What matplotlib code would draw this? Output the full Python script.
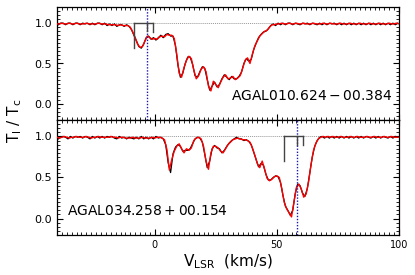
import numpy as np
import matplotlib
matplotlib.use("Agg")
import matplotlib.pyplot as plt
from matplotlib.ticker import MultipleLocator

# ---------------- data ----------------
vel_smooth = np.arange(-40, 101)          # km/s, 1 km/s channels
vel_raw = np.arange(-39.5, 100.0, 1.0)    # km/s, offset channels

top_smooth = [
    0.99, 0.99, 1.00, 0.99, 0.99, 1.00, 0.99, 0.99, 1.00, 0.99,
    0.99, 0.99, 1.00, 0.99, 0.99, 0.99, 0.99, 1.00, 0.99, 0.99,
    0.99, 0.98, 0.98, 0.98, 0.98, 0.97, 0.98, 0.97, 0.97, 0.97,
    0.95, 0.89, 0.82, 0.74, 0.70, 0.71, 0.78, 0.84, 0.82, 0.80,
    0.81, 0.80, 0.83, 0.84, 0.83, 0.86, 0.85, 0.85, 0.81, 0.62,
    0.38, 0.33, 0.45, 0.54, 0.59, 0.56, 0.42, 0.31, 0.35, 0.43,
    0.46, 0.40, 0.22, 0.16, 0.28, 0.24, 0.20, 0.27, 0.33, 0.36,
    0.31, 0.32, 0.34, 0.30, 0.32, 0.35, 0.44, 0.54, 0.57, 0.50,
    0.62, 0.72, 0.78, 0.84, 0.87, 0.90, 0.91, 0.95, 0.98, 0.98,
    0.99, 0.99, 1.00, 0.99, 0.99, 1.00, 0.99, 0.99, 1.00, 0.99,
    0.99, 1.00, 0.99, 0.99, 0.99, 1.00, 0.99, 0.99, 0.99, 1.00,
    0.99, 0.99, 1.00, 0.99, 0.99, 0.99, 1.00, 0.99, 0.99, 0.99,
    1.00, 0.99, 0.99, 0.99, 1.00, 0.99, 0.99, 0.99, 1.00, 0.99,
    0.99, 0.99, 1.00, 0.99, 0.99, 0.99, 1.00, 0.99, 0.99, 1.00, 0.99,
]
top_raw = [
    0.98, 1.00, 1.00, 0.98, 1.00, 1.00, 0.98, 1.00, 1.00, 0.98,
    1.00, 0.99, 1.00, 0.98, 1.00, 0.98, 1.00, 1.00, 0.98, 1.00,
    0.97, 0.99, 0.97, 0.99, 0.96, 0.98, 0.98, 0.96, 0.98, 0.96,
    0.92, 0.85, 0.78, 0.71, 0.69, 0.74, 0.82, 0.84, 0.80, 0.82,
    0.79, 0.82, 0.85, 0.82, 0.86, 0.87, 0.84, 0.84, 0.72, 0.48,
    0.33, 0.38, 0.50, 0.58, 0.58, 0.49, 0.35, 0.33, 0.40, 0.46,
    0.44, 0.30, 0.17, 0.22, 0.27, 0.21, 0.24, 0.31, 0.36, 0.33,
    0.30, 0.34, 0.31, 0.31, 0.34, 0.39, 0.50, 0.56, 0.53, 0.55,
    0.67, 0.75, 0.82, 0.86, 0.89, 0.90, 0.93, 0.97, 0.99, 0.97,
    1.00, 0.98, 1.00, 0.98, 1.00, 1.00, 0.98, 1.00, 0.99, 0.98,
    1.00, 0.99, 1.00, 0.98, 1.00, 0.99, 0.98, 1.00, 0.98, 1.00,
    0.98, 1.00, 0.99, 1.00, 0.98, 1.00, 0.98, 1.00, 0.98, 1.00,
    0.98, 1.00, 0.98, 1.00, 0.98, 1.00, 0.98, 1.00, 0.98, 1.00,
    0.98, 1.00, 0.98, 1.00, 0.98, 1.00, 0.98, 1.00, 0.98, 1.00,
]

bot_smooth = [
    0.99, 0.98, 0.99, 1.00, 0.99, 0.98, 0.99, 0.99, 1.00, 0.99,
    0.99, 0.99, 1.00, 0.99, 0.98, 0.99, 0.99, 1.00, 0.99, 0.99,
    0.99, 0.99, 1.00, 0.99, 0.99, 0.98, 0.99, 0.99, 0.98, 0.98,
    0.98, 0.99, 0.98, 0.98, 0.98, 0.99, 0.98, 0.98, 0.98, 0.99,
    0.98, 0.99, 0.99, 0.98, 0.96, 0.84, 0.59, 0.72, 0.82, 0.88,
    0.91, 0.85, 0.80, 0.85, 0.83, 0.86, 0.95, 0.98, 0.99, 0.97,
    0.88, 0.70, 0.60, 0.80, 0.88, 0.88, 0.86, 0.82, 0.80, 0.85,
    0.90, 0.93, 0.96, 0.97, 0.98, 0.97, 0.96, 0.96, 0.95, 0.93,
    0.86, 0.77, 0.67, 0.62, 0.70, 0.60, 0.49, 0.46, 0.48, 0.51,
    0.52, 0.50, 0.37, 0.20, 0.12, 0.07, 0.02, 0.20, 0.38, 0.42,
    0.36, 0.26, 0.30, 0.45, 0.66, 0.83, 0.92, 0.97, 0.99, 1.00,
    0.99, 1.00, 0.99, 1.00, 0.99, 0.99, 1.00, 0.99, 0.99, 0.99,
    1.00, 0.99, 0.99, 1.00, 0.99, 0.99, 0.99, 1.00, 0.99, 0.99,
    1.00, 0.99, 0.99, 0.99, 1.00, 0.99, 0.99, 1.00, 0.99, 0.99, 0.99,
]
bot_raw = [
    0.97, 0.99, 1.00, 0.99, 0.97, 1.00, 0.98, 1.00, 0.99, 1.00,
    0.98, 1.00, 0.99, 0.97, 1.00, 0.98, 1.00, 0.98, 1.00, 0.98,
    1.00, 0.99, 1.00, 0.98, 0.97, 1.00, 0.98, 0.99, 0.97, 0.99,
    0.98, 0.97, 0.99, 0.97, 1.00, 0.97, 0.99, 0.97, 0.99, 0.97,
    1.00, 0.98, 0.99, 0.97, 0.90, 0.68, 0.56, 0.79, 0.87, 0.90,
    0.88, 0.82, 0.83, 0.83, 0.85, 0.91, 0.97, 0.99, 0.98, 0.93,
    0.78, 0.62, 0.70, 0.85, 0.89, 0.86, 0.85, 0.80, 0.83, 0.88,
    0.92, 0.95, 0.97, 0.99, 0.97, 0.97, 0.95, 0.96, 0.94, 0.90,
    0.81, 0.72, 0.63, 0.67, 0.65, 0.54, 0.47, 0.47, 0.50, 0.52,
    0.51, 0.44, 0.28, 0.15, 0.10, 0.04, 0.10, 0.30, 0.42, 0.40,
    0.31, 0.27, 0.37, 0.56, 0.75, 0.88, 0.95, 0.99, 1.00, 0.98,
    1.00, 0.98, 1.00, 0.98, 1.00, 0.98, 1.00, 0.98, 1.00, 0.98,
    1.00, 0.98, 1.00, 0.98, 1.00, 0.98, 1.00, 0.99, 0.98, 1.00,
    0.98, 1.00, 0.98, 1.00, 0.99, 0.98, 1.00, 0.98, 1.00, 0.99,
]

top_name = r"$\mathrm{AGAL010.624-00.384}$"
bot_name = r"$\mathrm{AGAL034.258+00.154}$"

# velocity markers: systemic velocity, bracket x positions and depths
top_vsys = -3.0
top_bracket_x = [-8.5, -3.0, -0.5]
top_bracket_depth = [0.69, 0.90, 0.89]
bot_vsys = 58.4
bot_bracket_x = [52.8, 58.4, 60.5]
bot_bracket_depth = [0.70, 0.90, 0.90]

# ---------------- figure ----------------
fig = plt.figure(figsize=(4.15, 2.75), dpi=100)
L, R = 57 / 415, 399 / 415
ax1 = fig.add_axes([L, 1 - 120 / 275, R - L, 113 / 275])
ax2 = fig.add_axes([L, 1 - 235 / 275, R - L, 115 / 275], sharex=ax1)

panels = [
    (ax1, top_smooth, top_raw, top_name, top_vsys, top_bracket_x, top_bracket_depth),
    (ax2, bot_smooth, bot_raw, bot_name, bot_vsys, bot_bracket_x, bot_bracket_depth),
]

for ax, sm, raw, name, vsys, bx, bd in panels:
    ax.axhline(1.0, color="#999999", ls=(0, (1, 1)), lw=0.7, zorder=1)
    ax.plot(vel_raw, raw, color="black", lw=0.9, zorder=2)
    ax.plot(vel_smooth, sm, color="red", lw=1.0, zorder=3)
    ax.axvline(vsys, color="#1a1aa8", ls=(0, (1, 1.2)), lw=1.0, zorder=4)
    # bracket
    ax.plot([bx[0], bx[2]], [1.0, 1.0], color="#444444", lw=1.0, zorder=5)
    ax.plot([bx[0], bx[0]], [1.0, bd[0]], color="#444444", lw=1.0, zorder=5)
    ax.plot([bx[1], bx[1]], [1.0, bd[1]], color="#444444", lw=1.0, zorder=5)
    ax.plot([bx[2], bx[2]], [1.0, bd[2]], color="#444444", lw=1.0, zorder=5)

    ax.set_xlim(-40, 100)
    ax.set_ylim(-0.2, 1.2)
    ax.xaxis.set_major_locator(MultipleLocator(50))
    ax.xaxis.set_minor_locator(MultipleLocator(2))
    ax.yaxis.set_major_locator(MultipleLocator(0.5))
    ax.yaxis.set_minor_locator(MultipleLocator(0.05))
    ax.tick_params(which="both", direction="in", top=True, right=True)
    ax.tick_params(which="major", length=4, width=0.8)
    ax.tick_params(which="minor", length=2, width=0.6)
    ax.tick_params(axis="y", labelsize=8)
    ax.tick_params(axis="x", labelsize=7)
    for s in ax.spines.values():
        s.set_linewidth(0.9)

ax1.tick_params(axis="x", labelbottom=False)

ax1.text(0.982, 0.21, top_name, transform=ax1.transAxes, ha="right", va="center",
         fontsize=10)
ax2.text(0.028, 0.21, bot_name, transform=ax2.transAxes, ha="left", va="center",
         fontsize=10)

ax2.set_xlabel(r"V$_{\mathrm{LSR}}$  (km/s)", fontsize=11, labelpad=2)
fig.text(0.036, 1 - 121 / 275, r"T$_{\mathrm{l}}$ / T$_{\mathrm{c}}$", rotation=90,
         ha="center", va="center", fontsize=11)

fig.savefig("out.png", dpi=100)
